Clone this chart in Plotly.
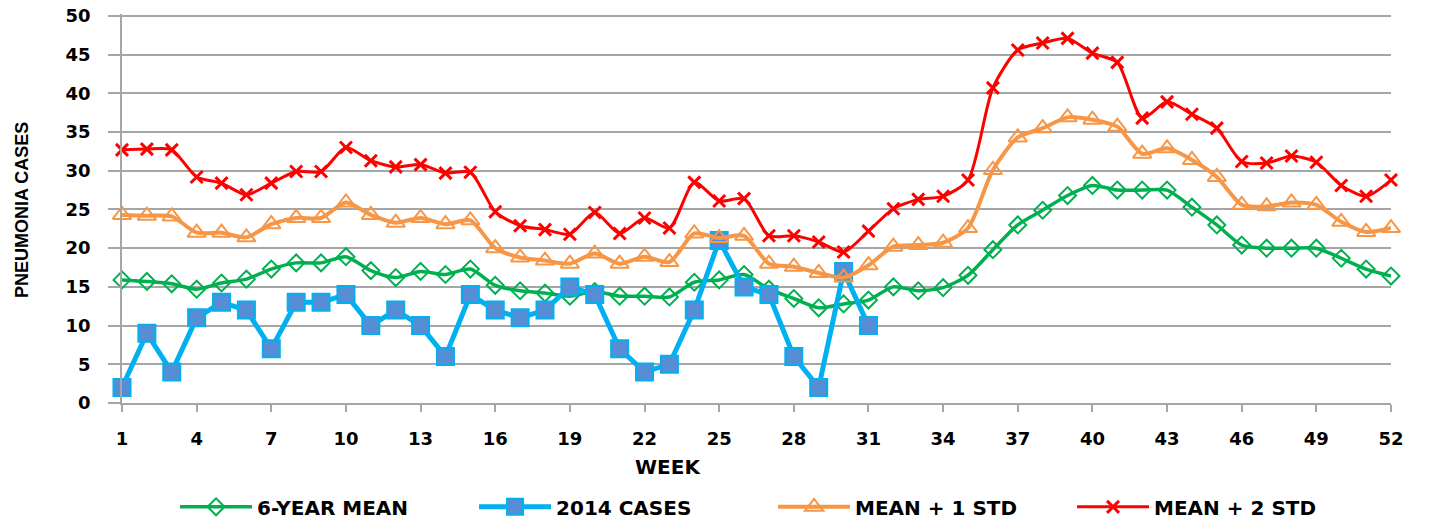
import plotly.graph_objects as go

weeks = list(range(1, 53))
tick_weeks = list(range(1, 53, 3))

mean_6yr = [15.9, 15.7, 15.4, 14.7, 15.5, 16.0, 17.3, 18.1, 18.1, 18.9,
            17.1, 16.2, 17.0, 16.6, 17.3, 15.2, 14.5, 14.2, 13.8, 14.4,
            13.8, 13.8, 13.7, 15.6, 15.9, 16.6, 14.7, 13.5, 12.3, 12.8,
            13.3, 15.0, 14.5, 14.9, 16.5, 19.8, 23.0, 24.9, 26.8, 28.1,
            27.5, 27.5, 27.5, 25.3, 23.0, 20.4, 20.0, 20.0, 20.0, 18.7,
            17.3, 16.4]

cases_2014 = [2, 9, 4, 11, 13, 12, 7, 13, 13, 14,
              10, 12, 10, 6, 14, 12, 11, 12, 15, 14,
              7, 4, 5, 12, 21, 15, 14, 6, 2, 17,
              10]

mean_1std = [24.3, 24.2, 24.1, 22.0, 22.0, 21.4, 23.1, 23.9, 23.9, 25.9,
             24.3, 23.3, 23.9, 23.1, 23.6, 20.0, 18.8, 18.4, 18.0, 19.3,
             18.0, 18.9, 18.2, 21.9, 21.3, 21.6, 18.0, 17.6, 16.8, 16.2,
             17.8, 20.2, 20.4, 20.7, 22.6, 30.1, 34.3, 35.5, 36.9, 36.6,
             35.7, 32.2, 32.9, 31.4, 29.2, 25.6, 25.4, 25.9, 25.6, 23.4,
             22.1, 22.6]

mean_2std = [32.7, 32.8, 32.7, 29.2, 28.4, 26.9, 28.4, 29.9, 29.9, 33.0,
             31.3, 30.5, 30.8, 29.7, 29.8, 24.7, 22.9, 22.4, 21.8, 24.6,
             21.9, 23.9, 22.6, 28.5, 26.1, 26.4, 21.6, 21.6, 20.8, 19.5,
             22.2, 25.1, 26.3, 26.7, 28.8, 40.7, 45.6, 46.5, 47.1, 45.2,
             44.0, 36.8, 38.9, 37.3, 35.5, 31.2, 31.0, 31.9, 31.1, 28.1,
             26.7, 28.8]

GRID = "#A6A6A6"
WIDE = "DejaVu Sans, Verdana, sans-serif"
NARROW = "Liberation Sans, Arial, sans-serif"

fig = go.Figure()

fig.add_trace(go.Scatter(
    x=weeks, y=mean_6yr, name="6-YEAR MEAN", mode="lines+markers",
    line=dict(color="#00B050", width=3.5, shape="spline", smoothing=0.7),
    marker=dict(symbol="diamond-open", size=13, color="#00B050",
                line=dict(width=2, color="#00B050")),
    cliponaxis=False))

fig.add_trace(go.Scatter(
    x=weeks[:len(cases_2014)], y=cases_2014, name="2014 CASES", mode="lines+markers",
    line=dict(color="#00B0F0", width=5),
    marker=dict(symbol="square", size=17, color="#558ED5",
                line=dict(width=2, color="#00B0F0")),
    cliponaxis=False))

fig.add_trace(go.Scatter(
    x=weeks, y=mean_1std, name="MEAN + 1 STD", mode="lines+markers",
    line=dict(color="#F79646", width=4, shape="spline", smoothing=0.7),
    marker=dict(symbol="triangle-up-open", size=16, color="#F79646",
                line=dict(width=2, color="#F79646")),
    cliponaxis=False))

fig.add_trace(go.Scatter(
    x=weeks, y=mean_2std, name="MEAN + 2 STD", mode="lines+markers",
    line=dict(color="#FF0000", width=3, shape="spline", smoothing=0.7),
    marker=dict(symbol="x-thin", size=12, color="#FF0000",
                line=dict(width=3, color="#FF0000")),
    cliponaxis=False))

fig.update_layout(
    width=1434, height=520,
    margin=dict(l=122, r=43, t=14, b=117, autoexpand=False),
    paper_bgcolor="white", plot_bgcolor="white",
    showlegend=True,
    legend=dict(orientation="h", x=0.0418, xanchor="left",
                y=-0.267, yanchor="middle",
                font=dict(family=WIDE, size=20, color="black", weight="bold"),
                itemwidth=72, entrywidth=212, entrywidthmode="pixels",
                bgcolor="rgba(0,0,0,0)"),
    xaxis=dict(range=[1, 52], tickvals=tick_weeks, showgrid=False, zeroline=False,
               automargin=False,
               showline=True, linecolor=GRID, linewidth=1.5,
               ticks="outside", ticklen=7, tickcolor=GRID, tickwidth=1.5,
               ticklabelstandoff=12,
               tickfont=dict(family=WIDE, size=18, color="black", weight="bold")),
    yaxis=dict(range=[0, 50.25], dtick=5, showgrid=True, gridcolor=GRID, gridwidth=1.5,
               automargin=False,
               zeroline=False, showline=True, linecolor=GRID, linewidth=1.5,
               ticks="outside", ticklen=12, tickcolor=GRID, tickwidth=1.5,
               ticklabelstandoff=14,
               tickfont=dict(family=WIDE, size=18, color="black", weight="bold")),
    annotations=[
        dict(text="PNEUMONIA CASES", xref="paper", yref="paper",
             x=-0.0788, y=0.496, xanchor="center", yanchor="middle",
             textangle=-90, showarrow=False,
             font=dict(family=NARROW, size=18, color="black", weight="bold")),
        dict(text="WEEK", xref="paper", yref="paper",
             x=0.4303, y=-0.1645, xanchor="center", yanchor="middle",
             showarrow=False,
             font=dict(family=WIDE, size=20, color="black", weight="bold")),
    ],
)

fig.write_html("out.html", config={"displayModeBar": False},
               post_script="document.body.style.margin='0px';")
